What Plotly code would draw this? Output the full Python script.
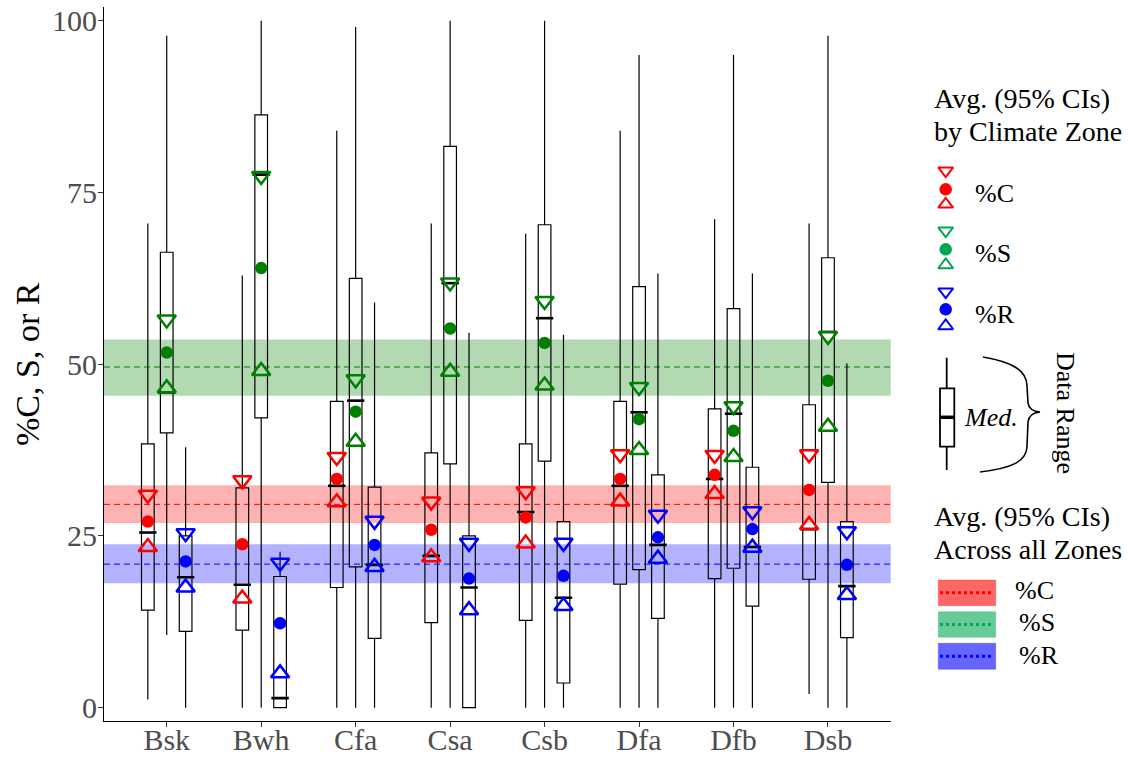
import plotly.graph_objects as go

# ---------------- data ----------------
zones = ["Bsk", "Bwh", "Cfa", "Csa", "Csb", "Dfa", "Dfb", "Dsb"]

# %C distribution per zone
c_min = [1.2, 0, 0, 0, 0, 0, 0, 2.0]
c_q1 = [14.2, 11.3, 17.5, 12.4, 12.7, 18.0, 18.8, 18.7]
c_med = [25.5, 17.9, 32.3, 22.1, 28.5, 32.3, 33.3, 26.0]
c_q3 = [38.4, 32.0, 44.6, 37.1, 38.4, 44.6, 43.5, 44.1]
c_max = [70.5, 62.9, 84.0, 70.5, 69.0, 84.0, 71.1, 70.5]
c_lo = [23.4, 15.9, 29.9, 21.9, 23.9, 30.0, 31.1, 26.6]
c_mean = [27.1, 23.8, 33.3, 25.9, 27.7, 33.3, 33.9, 31.7]
c_hi = [31.0, 33.1, 36.5, 30.0, 31.5, 36.9, 36.8, 36.9]

# %S distribution per zone
s_min = [10.6, 0, 0, 0, 0, 0, 0, 0]
s_q1 = [40.0, 42.2, 20.5, 35.5, 35.9, 20.1, 20.3, 32.8]
s_med = [45.9, 77.6, 44.7, 61.8, 56.7, 43.0, 42.8, 54.7]
s_q3 = [66.3, 86.3, 62.5, 81.7, 70.3, 61.3, 58.1, 65.5]
s_max = [97.8, 100, 99.1, 100, 100, 95.0, 95.0, 97.8]
s_lo = [46.5, 49.0, 38.7, 48.9, 46.9, 37.5, 36.5, 40.9]
s_mean = [51.7, 64.0, 43.1, 55.2, 53.1, 42.0, 40.3, 47.6]
s_hi = [56.5, 77.4, 47.8, 61.9, 59.2, 46.7, 43.9, 54.1]

# %R distribution per zone
r_min = [0, 0, 0, 0, 0, 0, 0, 0]
r_q1 = [11.1, 0, 10.1, 0, 3.6, 13.0, 14.8, 10.2]
r_med = [19.0, 1.4, 20.8, 17.5, 16.0, 23.7, 23.4, 17.7]
r_q3 = [25.0, 19.1, 32.1, 25.0, 27.1, 33.9, 35.0, 27.1]
r_max = [37.9, 22.7, 59.0, 54.6, 54.3, 63.2, 63.2, 50.1]
r_lo = [17.5, 5.0, 20.5, 14.2, 14.8, 21.7, 23.3, 16.4]
r_mean = [21.3, 12.3, 23.7, 18.8, 19.2, 24.8, 26.0, 20.8]
r_hi = [25.4, 21.1, 27.2, 24.0, 24.0, 28.1, 28.6, 25.7]

# overall averages (95% CI) across all zones: [lo, mean, hi]
all_c = [26.9, 29.6, 32.4]
all_s = [45.4, 49.6, 53.6]
all_r = [18.1, 20.9, 23.8]

y_ticks = [0, 25, 50, 75, 100]

# ---------------- styling / layout ----------------
W, H = 1128, 757
PL, PR, PT, PB = 104, 890.7, 7, 720.7
FONT = "Liberation Serif"
TICK_GREY = "#4D4D4D"

series = [
    dict(off=-0.2, col="#FF0000", band="rgba(255,0,0,0.3)",
         mn=c_min, q1=c_q1, med=c_med, q3=c_q3, mx=c_max,
         lo=c_lo, mean=c_mean, hi=c_hi, all=all_c),
    dict(off=0.0, col="#008000", band="rgba(0,128,0,0.3)",
         mn=s_min, q1=s_q1, med=s_med, q3=s_q3, mx=s_max,
         lo=s_lo, mean=s_mean, hi=s_hi, all=all_s),
    dict(off=0.2, col="#0000FF", band="rgba(0,0,255,0.3)",
         mn=r_min, q1=r_q1, med=r_med, q3=r_q3, mx=r_max,
         lo=r_lo, mean=r_mean, hi=r_hi, all=all_r),
]

xpos = list(range(1, len(zones) + 1))
BOXW = 0.134

fig = go.Figure()

# boxes
for s in series:
    x = [p + s["off"] for p in xpos]
    fig.add_trace(go.Box(
        x=x, q1=s["q1"], median=s["med"], q3=s["q3"],
        lowerfence=s["mn"], upperfence=s["mx"],
        width=BOXW, whiskerwidth=0, boxpoints=False,
        fillcolor="rgba(0,0,0,0)", line=dict(color="black", width=1.2),
        showlegend=False, hoverinfo="skip", xaxis="x", yaxis="y"))

# thick median marks
for s in series:
    x = [p + s["off"] for p in xpos]
    fig.add_trace(go.Scatter(
        x=x, y=s["med"], mode="markers", showlegend=False, hoverinfo="skip",
        marker=dict(symbol="line-ew", size=12.4,
                    line=dict(width=2.6, color="black"))))

# means and CIs
for s in series:
    x = [p + s["off"] for p in xpos]
    fig.add_trace(go.Scatter(
        x=x, y=s["hi"], mode="markers", showlegend=False, hoverinfo="skip",
        marker=dict(symbol="triangle-down-open", size=16, color=s["col"],
                    line=dict(width=2.5, color=s["col"]))))
    fig.add_trace(go.Scatter(
        x=x, y=s["mean"], mode="markers", showlegend=False, hoverinfo="skip",
        marker=dict(symbol="circle", size=12.5, color=s["col"],
                    line=dict(width=0))))
    fig.add_trace(go.Scatter(
        x=x, y=s["lo"], mode="markers", showlegend=False, hoverinfo="skip",
        marker=dict(symbol="triangle-up-open", size=16, color=s["col"],
                    line=dict(width=2.5, color=s["col"]))))

shapes = []
# overall bands + dashed mean lines
for s in series:
    lo, mean, hi = s["all"]
    shapes.append(dict(type="rect", xref="x domain", yref="y", x0=0, x1=1,
                       y0=lo, y1=hi, fillcolor=s["band"], line=dict(width=0),
                       layer="below"))
    shapes.append(dict(type="line", xref="x domain", yref="y", x0=0, x1=1,
                       y0=mean, y1=mean, layer="below",
                       line=dict(color=s["col"], width=1, dash="6px,4px")))

# ---------------- custom legend (pixel space on x2/y2) ----------------
leg_cols = ["#FF0000", "#00A651", "#0000FF"]
leg_labels = ["%C", "%S", "%R"]
leg_x = 945.7
leg_rows = [(171.7, 189.3, 203.3, 193.3), (231.7, 249.3, 264.0, 253.3),
            (292.7, 309.3, 325.0, 314.0)]
for col, lab, (yd, yc, yu, yt) in zip(leg_cols, leg_labels, leg_rows):
    fig.add_trace(go.Scatter(
        x=[leg_x], y=[yd - 1], mode="markers", xaxis="x2", yaxis="y2",
        showlegend=False, hoverinfo="skip",
        marker=dict(symbol="triangle-down-open", size=13, color=col,
                    line=dict(width=2, color=col))))
    fig.add_trace(go.Scatter(
        x=[leg_x], y=[yc], mode="markers", xaxis="x2", yaxis="y2",
        showlegend=False, hoverinfo="skip",
        marker=dict(symbol="circle", size=12.5, color=col, line=dict(width=0))))
    fig.add_trace(go.Scatter(
        x=[leg_x], y=[yu + 1], mode="markers", xaxis="x2", yaxis="y2",
        showlegend=False, hoverinfo="skip",
        marker=dict(symbol="triangle-up-open", size=13, color=col,
                    line=dict(width=2, color=col))))

ann = []


def text(x, y, t, size=28, xanchor="left", angle=0, color="black"):
    ann.append(dict(x=x, y=y, xref="x2", yref="y2", text=t, showarrow=False,
                    xanchor=xanchor, yanchor="middle", textangle=angle,
                    font=dict(family=FONT, size=size, color=color)))


text(932, 98, "Avg. (95% CIs)")
text(932, 131.7, "by Climate Zone")
for lab, (yd, yc, yu, yt) in zip(leg_labels, leg_rows):
    text(972.7, yt, lab, size=26)

# box glyph
shapes.append(dict(type="line", xref="x2", yref="y2", x0=946.7, x1=946.7,
                   y0=357.7, y1=470, line=dict(color="black", width=1.8),
                   layer="above"))
shapes.append(dict(type="rect", xref="x2", yref="y2", x0=940, x1=954.3,
                   y0=388.3, y1=446.7, fillcolor="white",
                   line=dict(color="black", width=1.8), layer="above"))
shapes.append(dict(type="line", xref="x2", yref="y2", x0=940, x1=954.3,
                   y0=417.3, y1=417.3, line=dict(color="black", width=3.5),
                   layer="above"))
text(962, 417, "<i>Med.</i>", size=26)
# curly brace
shapes.append(dict(type="path", xref="x2", yref="y2", layer="above",
                   path="M 983,357 C 1013,362 1027,371 1027,386 L 1028,403 "
                        "Q 1029,411 1040,412 Q 1029,413 1028,422 L 1027,446 "
                        "C 1027,461 1013,468 980,472",
                   line=dict(color="black", width=1.6)))
text(1066, 413, "Data Range", size=26, xanchor="center", angle=90)

# bottom legend
text(932, 516, "Avg. (95% CIs)")
text(932, 549, "Across all Zones")
rect_fill = ["rgba(255,0,0,0.6)", "rgba(0,168,80,0.6)", "rgba(0,0,255,0.6)"]
rect_edge = ["rgba(255,0,0,0.25)", "rgba(0,168,80,0.25)", "rgba(0,0,255,0.25)"]
dot_cols = ["#FF0000", "#00A850", "#0000FF"]
rect_rows = [(580, 605.7, 590, 1013.3), (611.7, 637.3, 622, 1017.3),
             (643.3, 669.3, 655, 1017.3)]
for lab, f, e, dc, (y0, y1, yt, xt) in zip(leg_labels, rect_fill, rect_edge,
                                           dot_cols, rect_rows):
    shapes.append(dict(type="rect", xref="x2", yref="y2", x0=938.3, x1=995.7,
                       y0=y0, y1=y1, fillcolor=f, line=dict(color=e, width=1),
                       layer="above"))
    ym = (y0 + y1) / 2
    shapes.append(dict(type="line", xref="x2", yref="y2", x0=940, x1=994,
                       y0=ym, y1=ym, layer="above",
                       line=dict(color=dc, width=3, dash="3px,3px")))
    text(xt, yt, lab, size=26)

# y-axis title
text(27, 364, "%C, S, or R", size=34, xanchor="center", angle=-90)

axis_common = dict(showline=True, linecolor="black", linewidth=1.1,
                   ticks="outside", ticklen=5, tickwidth=1.1,
                   tickcolor="#333333", showgrid=False, zeroline=False,
                   automargin=False,
                   tickfont=dict(family=FONT, size=30, color=TICK_GREY))

fig.update_layout(
    width=W, height=H, autosize=False,
    margin=dict(l=0, r=0, t=0, b=0, pad=0, autoexpand=False),
    paper_bgcolor="white", plot_bgcolor="rgba(0,0,0,0)",
    boxmode="overlay", showlegend=False,
    font=dict(family=FONT),
    xaxis=dict(domain=[PL / W, PR / W], range=[0.336, 8.664],
               tickmode="array", tickvals=xpos, ticktext=zones, anchor="y",
               ticklabelstandoff=-13, **axis_common),
    yaxis=dict(domain=[1 - PB / H, 1 - PT / H], range=[-1.89, 102.0],
               tickmode="array", tickvals=y_ticks, anchor="x",
               ticklabelstandoff=-5, **axis_common),
    xaxis2=dict(domain=[0, 1], range=[0, W], visible=False, anchor="y2",
                fixedrange=True),
    yaxis2=dict(domain=[0, 1], range=[H, 0], visible=False, anchor="x2",
                fixedrange=True),
    shapes=shapes, annotations=ann,
)

fig.write_html("out.html")
